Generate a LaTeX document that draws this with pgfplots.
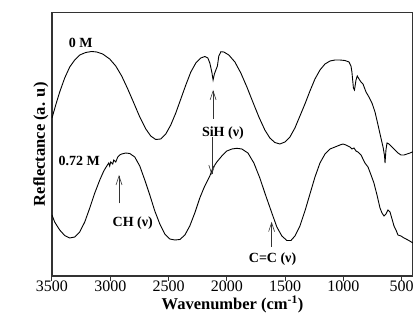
\documentclass[border=0pt]{standalone}
\usepackage{pgfplots}
\pgfplotsset{compat=1.18}
\usepackage{fontspec}
\setmainfont{Liberation Serif}
\usetikzlibrary{arrows.meta}
\begin{document}
\begin{tikzpicture}
\begin{axis}[
  scale only axis,
  width=361pt, height=263.3pt,
  x dir=reverse,
  xmin=403, xmax=3500,
  ymin=-276, ymax=-12.7,
  xtick={500,1000,1500,2000,2500,3000,3500},
  xticklabels={500,1000,1500,2000,2500,3000,3500},
  ytick=\empty,
  xtick pos=bottom,
  tick align=outside,
  major tick length=5pt,
  axis line style={black!80, line width=1.2pt},
  tick style={black!80, line width=1pt},
  xticklabel style={font=\fontsize{16}{18}\selectfont, inner sep=0pt, yshift=0.5pt},
  xlabel={\textbf{Wavenumber (cm\textsuperscript{-1})}},
  ylabel={\textbf{Reflectance (a. u)}},
  label style={font=\fontsize{16.5}{18}\selectfont},
  xlabel style={yshift=-0.5pt},
  ylabel style={yshift=-5pt},
  clip=true,
]
% 0 M
\addplot[black, line width=0.9pt] coordinates {
(3500,-118)(3468,-105)(3434,-92)(3391,-78)(3348,-67)(3305,-60)(3262,-55)(3211,-52.5)(3159,-51.5)(3116,-52)
(3065,-54)(3005,-59)(2953,-66)(2902,-76)(2850,-89)(2798,-103)(2747,-117)(2695,-129)(2653,-136)(2610,-139.5)
(2567,-139)(2524,-134)(2481,-125)(2438,-113)(2395,-99)(2352,-85)(2309,-72)(2266,-63)(2223,-58)(2189,-56.5)
(2163,-58)(2146,-63)(2129,-72)(2118,-80)(2107,-74)(2094,-70)(2081,-66)(2069,-56)(2051,-51.7)(2026,-52)
(1983,-55)(1931,-62)(1880,-73)(1828,-87)(1777,-102)(1725,-117)(1674,-130)(1631,-138)(1588,-142.5)(1545,-144)
(1502,-142)(1459,-137)(1416,-128)(1373,-116)(1330,-104)(1287,-91)(1244,-79)(1201,-70)(1158,-64)(1115,-61)
(1072,-60)(1030,-60)(987,-60.5)(952,-62)(935,-66)(927,-72)(914,-88)(905,-90)(892,-80)(881,-76)
(866,-79)(849,-82)(832,-84)(806,-92)(781,-97)(755,-103)(729,-112)(703,-125)(678,-138)(660,-147)
(647,-156)(643,-163)(635,-150)(626,-143)(609,-144)(583,-147)(557,-150)(532,-153)(506,-155)(480,-155)
(454,-154)(428,-153)(403,-151.7)
};
% 0.72 M
\addplot[black, line width=0.9pt] coordinates {
(3500,-215)(3477,-222)(3434,-230)(3391,-235.5)(3348,-238)(3305,-237)(3262,-232)(3219,-222)(3176,-208)(3133,-193)
(3090,-180)(3056,-171)(3030,-166)(3013,-163)(3005,-166)(2996,-162)(2979,-164)(2970,-160)(2953,-162)(2936,-157)
(2919,-155)(2902,-154)(2867,-153)(2833,-153.5)(2790,-157)(2747,-166)(2704,-180)(2661,-195)(2618,-211)(2575,-224)
(2532,-234)(2489,-239)(2446,-240)(2403,-239.5)(2360,-235)(2318,-226)(2275,-213)(2232,-198)(2197,-188)(2172,-182)
(2146,-176)(2120,-168)(2086,-162)(2043,-156)(2000,-151)(1957,-149)(1914,-148.3)(1871,-149)(1819,-153)(1768,-163)
(1717,-178)(1665,-196)(1614,-213)(1571,-227)(1528,-236)(1485,-240.5)(1450,-240.5)(1416,-236)(1373,-226)(1330,-211)
(1287,-194)(1244,-177)(1201,-163)(1158,-154)(1115,-149)(1072,-147)(1030,-145)(1004,-144)(978,-145)(944,-147)
(927,-149)(909,-148)(892,-151)(875,-152)(849,-155)(815,-163)(789,-167)(763,-175)(738,-183)(712,-195)
(686,-208)(669,-213)(652,-216)(635,-214)(618,-210)(600,-212)(583,-219)(566,-226)(549,-230)(532,-235)
(506,-236)(480,-238)(446,-240)(403,-243)
};
\tikzset{ann/.style={font=\fontsize{14}{16}\selectfont\bfseries}, arr/.style={-{Straight Barb[length=9pt,width=6pt]}, line width=0.6pt, black!80}}
\node[ann] at (axis cs:3254,-43) {0 M};
\node[ann, anchor=east] at (axis cs:3060,-160.7) {0.72 M};
\node[ann] at (axis cs:2034,-133) {SiH (ν)};
\node[ann] at (axis cs:2807,-222.7) {CH (ν)};
\node[ann] at (axis cs:1608,-259.3) {C=C (ν)};
\draw[arr] (axis cs:2118,-119) -- (axis cs:2118,-90);
\draw[arr] (axis cs:2129,-136.7) -- (axis cs:2129,-175);
\draw[arr] (axis cs:2925,-203.3) -- (axis cs:2925,-175);
\draw[arr] (axis cs:1616,-246.7) -- (axis cs:1616,-221.7);
\end{axis}
\pgfresetboundingbox
\path ([shift={(-52pt,-48pt)}]current axis.south west) rectangle ([shift={(0pt,12.7pt)}]current axis.north east);
\end{tikzpicture}
\end{document}
